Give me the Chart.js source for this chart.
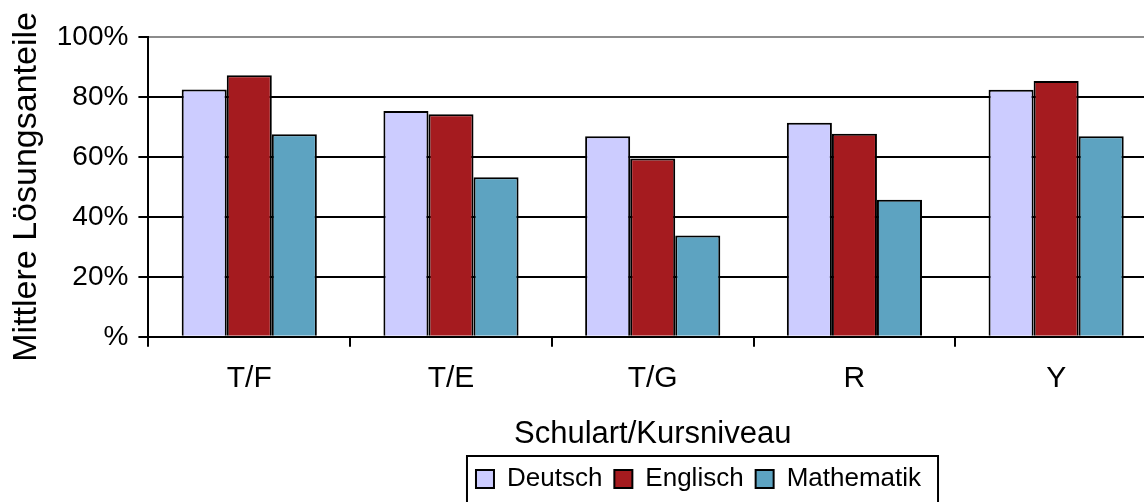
<!DOCTYPE html>
<html><head><meta charset="utf-8">
<script src="https://cdn.jsdelivr.net/npm/chart.js@4"></script>
<style>html,body{margin:0;padding:0;overflow:hidden;background:#fff}</style>
</head><body>
<canvas id="c" width="1157" height="502"></canvas>
<script>
const categories = ['T/F', 'T/E', 'T/G', 'R', 'Y'];
const deutsch = [82.5, 75.3, 66.9, 71.4, 82.4];
const englisch = [87.2, 74.2, 59.5, 67.7, 85.3];
const mathematik = [67.6, 53.2, 33.8, 45.7, 66.9];
const seriesNames = ['Deutsch', 'Englisch', 'Mathematik'];
const yTickValues = [0, 20, 40, 60, 80, 100];

const FONT = "'Liberation Sans', Arial, sans-serif";

const legendShift = {
  id: 'legendShift',
  afterLayout(chart) {
    const l = chart.legend;
    if (l) { l.left += 117; l.right += 117; }
  }
};
const legendBorder = {
  id: 'legendBorder',
  afterDraw(chart) {
    const l = chart.legend;
    const hb = l && l.legendHitBoxes;
    if (!hb || !hb.length) return;
    const first = hb[0], last = hb[hb.length - 1];
    const ctx = chart.ctx;
    ctx.save();
    ctx.strokeStyle = '#000';
    ctx.lineWidth = 2;
    const x0 = first.left - 9, x1 = last.left + last.width + 17;
    ctx.strokeRect(x0, l.top + 2, x1 - x0, 80);
    ctx.restore();
  }
};

new Chart(document.getElementById('c'), {
  type: 'bar',
  data: {
    labels: categories,
    datasets: [
      { label: seriesNames[0], data: deutsch, backgroundColor: '#CCCCFF' },
      { label: seriesNames[1], data: englisch, backgroundColor: '#A51B1F' },
      { label: seriesNames[2], data: mathematik, backgroundColor: '#5DA3C1' }
    ].map(d => Object.assign(d, { borderColor: '#000', borderWidth: 2, categoryPercentage: 0.67, barPercentage: 1.0 }))
  },
  plugins: [legendShift, legendBorder],
  options: {
    responsive: false,
    animation: false,
    layout: { padding: { top: 37, left: 6, right: 0, bottom: 0 } },
    plugins: {
      tooltip: { enabled: false },
      legend: {
        position: 'bottom',
        labels: {
          boxWidth: 18, boxHeight: 18, padding: 12, color: '#000',
          font: { family: FONT, size: 26 }
        }
      }
    },
    scales: {
      x: {
        grid: { display: true, drawOnChartArea: false, drawTicks: true, tickLength: 10, color: '#000', lineWidth: 2, offset: true },
        border: { color: '#000', width: 2 },
        ticks: { color: '#000', padding: 14, font: { family: FONT, size: 30 } },
        title: { display: true, text: 'Schulart/Kursniveau', color: '#000', font: { family: FONT, size: 31 }, padding: { top: 5, bottom: 1 } }
      },
      y: {
        min: 0, max: 100,
        afterBuildTicks(axis) { axis.ticks = yTickValues.map(v => ({ value: v })); },
        grid: {
          color: c => (c.tick && c.tick.value === 100) ? '#8c8c8c' : '#000',
          lineWidth: 2,
          tickColor: '#000', tickLength: 10
        },
        border: { color: '#000', width: 2 },
        ticks: { color: '#000', padding: 10, font: { family: FONT, size: 28 }, callback: v => v === 0 ? '%' : v + '%' },
        title: { display: true, text: 'Mittlere Lösungsanteile', color: '#000', font: { family: FONT, size: 34 }, padding: { top: 0, bottom: 0 } }
      }
    }
  }
});
</script>
</body></html>
